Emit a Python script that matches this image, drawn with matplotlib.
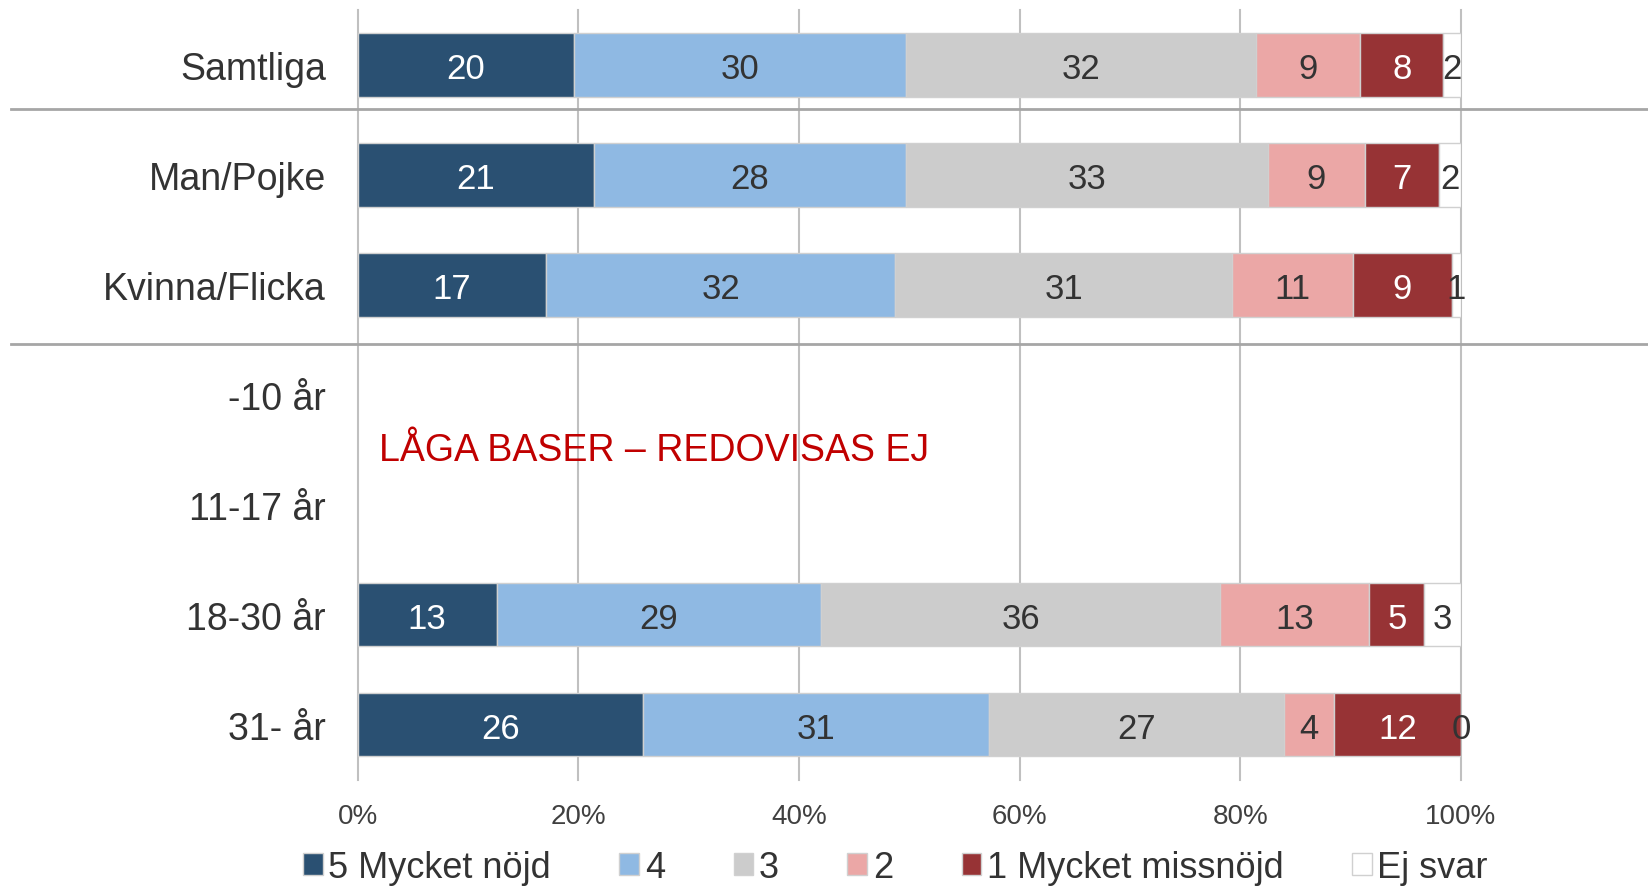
import numpy as np
import matplotlib
matplotlib.use("Agg")
import matplotlib.pyplot as plt

plt.rcParams["font.family"] = ["Liberation Sans", "DejaVu Sans"]

# Rows (top to bottom); the two youngest age groups are not shown (low base)
categories = ["Samtliga", "Man/Pojke", "Kvinna/Flicka", "-10 år", "11-17 år", "18-30 år", "31- år"]
series = ["5 Mycket nöjd", "4", "3", "2", "1 Mycket missnöjd", "Ej svar"]

# shares in percent per row (None = not reported)
very_satisfied = [19.6, 21.4, 17.1, None, None, 12.6, 25.9]
grade_4 = [30.1, 28.3, 31.6, None, None, 29.4, 31.3]
grade_3 = [31.7, 32.8, 30.6, None, None, 36.2, 26.8]
grade_2 = [9.5, 8.8, 10.9, None, None, 13.5, 4.5]
very_dissatisfied = [7.5, 6.7, 9.0, None, None, 5.0, 11.5]
no_answer = [1.6, 2.0, 0.8, None, None, 3.3, 0.0]

# labels written on the bars
labels = {
    "5 Mycket nöjd": [20, 21, 17, None, None, 13, 26],
    "4": [30, 28, 32, None, None, 29, 31],
    "3": [32, 33, 31, None, None, 36, 27],
    "2": [9, 9, 11, None, None, 13, 4],
    "1 Mycket missnöjd": [8, 7, 9, None, None, 5, 12],
    "Ej svar": [2, 2, 1, None, None, 3, 0],
}

values = [very_satisfied, grade_4, grade_3, grade_2, very_dissatisfied, no_answer]
colors = ["#2A5072", "#8FB9E3", "#CCCCCC", "#EBA7A6", "#973335", "#FFFFFF"]
text_colors = ["white", "#333333", "#333333", "#333333", "white", "#333333"]

fig = plt.figure(figsize=(16.49, 8.87), dpi=100)
ax = fig.add_axes([0.2169, 0.1198, 0.669, 0.8678])

y = np.arange(len(categories))
shown = [i for i, v in enumerate(very_satisfied) if v is not None]
left = np.zeros(len(shown))
handles = []
for name, vals, col, tcol in zip(series, values, colors, text_colors):
    w = np.array([vals[i] for i in shown], dtype=float)
    bars = ax.barh(y[shown], w, left=left, height=0.575, color=col,
                   edgecolor="#D0D0D0", linewidth=1, zorder=3, label=name)
    handles.append(bars)
    for k, i in enumerate(shown):
        ax.text(left[k] + w[k] / 2, y[i], str(labels[name][i]), ha="center",
                va="center_baseline", fontsize=25, color=tcol, zorder=4)
    left = left + w

ax.set_xlim(0, 100)
ax.set_ylim(6.5, -0.5)
ax.set_xticks(np.arange(0, 101, 20))
ax.set_xticklabels([f"{t}%" for t in range(0, 101, 20)], fontsize=20, color="#404040")
ax.set_yticks(y)
ax.set_yticklabels(categories, fontsize=27, color="#333333")
ax.tick_params(axis="both", length=0)
ax.tick_params(axis="y", pad=23)
ax.tick_params(axis="x", pad=17)
ax.grid(axis="x", color="#C0C0C0", linewidth=1.5, zorder=0)
for gl in ax.get_xgridlines():
    gl.set_clip_on(False)
for s in ax.spines.values():
    s.set_visible(False)

# group separators across the whole figure width
for ys in [0.40, 2.54]:
    ax.axhline(ys, xmin=-0.3146, xmax=1.2, color="#A6A6A6", linewidth=2, clip_on=False, zorder=2)

ax.text(1.9, 3.5, "LÅGA BASER – REDOVISAS EJ", color="#C00000", fontsize=27,
        ha="left", va="center")

fig.legend(handles=handles, labels=series, loc="center", bbox_to_anchor=(0.543, 0.021),
           ncol=6, frameon=False, fontsize=26, handlelength=0.55, handleheight=0.55,
           handletextpad=0.15, columnspacing=1.9, labelcolor="#333333")

fig.savefig("out.png", dpi=100)
